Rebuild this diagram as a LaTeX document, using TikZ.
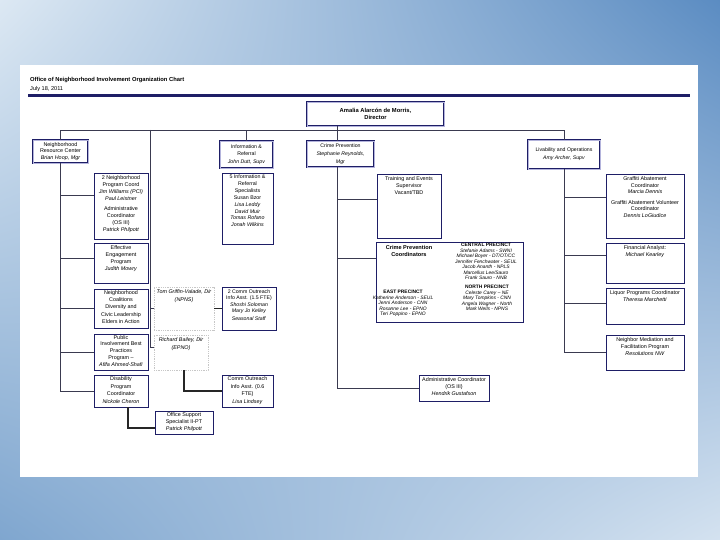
\documentclass[tikz,border=0pt]{standalone}
\usepackage{fontspec}
\setmainfont{Liberation Sans}
\usetikzlibrary{shadings}
\definecolor{navy}{HTML}{1E1E66}
\definecolor{lav}{HTML}{B4B4DC}
\definecolor{conn}{HTML}{3A3A50}
\definecolor{bgA}{HTML}{DCE8F3}
\definecolor{bgB}{HTML}{5B8CC2}
\definecolor{bgC}{HTML}{7FA6CF}
\definecolor{bgD}{HTML}{D4E2F0}
\tikzset{
  sbox/.style={draw=navy, line width=0.9pt, fill=white, inner sep=0pt},
  dbox/.style={draw=navy, double=lav, double distance=0.9pt, line width=0.85pt, fill=white, inner sep=0pt, align=center, font=\fontsize{5.4}{6.8}\selectfont},
  gbox/.style={draw=black!22, line width=0.8pt, dash pattern=on 1pt off 0.8pt, fill=white, inner sep=0pt},
  txt/.style={inner sep=0pt, align=center, font=\fontsize{5.4}{7}\selectfont},
  small/.style={inner sep=0pt, align=center, font=\itshape\fontsize{4.9}{5.5}\selectfont},
  link/.style={draw=conn, line width=0.6pt},
  tlink/.style={draw=black!85, line width=1.3pt},
}
\newcommand\obox[9][]{%
  \node[#2, minimum width=#6, minimum height=#7] (#3) at (#4,#5) {};
  \node[txt, anchor=north, #1] (#3t) at ([yshift=-#8pt]#3.north) {#9};}
\begin{document}
\begin{tikzpicture}[x=1pt,y=-1pt]
\useasboundingbox (0,0) rectangle (720,540);
\shade[upper left=bgA,upper right=bgB,lower left=bgC,lower right=bgD] (0,0) rectangle (720,540);
\fill[white] (20,65) rectangle (698,477);
\node[anchor=base west, inner sep=0, font=\bfseries\fontsize{5.8}{6}\selectfont] (title) at (30,82) {Office of Neighborhood Involvement Organization Chart};
\node[anchor=base west, inner sep=0, font=\fontsize{5.6}{6}\selectfont] (date) at (30,91) {July 18, 2011};
\coordinate (ruleL) at (28,95.5);
\coordinate (ruleR) at (690,95.5);
\draw[navy, line width=2.6pt] (ruleL) -- (ruleR);

% director and department heads
\node[dbox, minimum width=137, minimum height=24, font=\bfseries\fontsize{5.8}{7.5}\selectfont] (dir) at (375.5,114) {Amalia Alarc\'on de Morris,\\Director};
\node[dbox, minimum width=55, minimum height=23] (nrc) at (60.5,151.5) {Neighborhood\\Resource Center\\\textit{Brian Hoop, Mgr}};
\node[dbox, minimum width=53, minimum height=27, font=\fontsize{5.2}{7.8}\selectfont] (info) at (246.5,154.5) {Information \&\\Referral\\\textit{John Dutt, Supv}};
\node[dbox, minimum width=67, minimum height=26, font=\fontsize{5.2}{7.8}\selectfont] (cp) at (340.5,154) {Crime Prevention\\\textit{Stephanie Reynolds,}\\\textit{Mgr}};
\node[dbox, minimum width=72, minimum height=29, font=\fontsize{5.2}{7.8}\selectfont] (liv) at (564,154.5) {Livability and Operations\\\textit{Amy Archer, Supv}};

% left column
\obox{sbox}{npc}{121}{206}{54}{66}{3}{2 Neighborhood\\Program Coord\\\textit{Jim Williams (PCI)}\\\textit{Paul Leistner}\\[2.5pt]Administrative\\Coordinator\\(OS III)\\\textit{Patrick Philpott}}
\obox{sbox}{eep}{121}{263}{54}{40}{3}{Effective\\Engagement\\Program\\\textit{Judith Mowry}}
\obox[font=\fontsize{5.4}{7.4}\selectfont]{sbox}{ncd}{121}{308.5}{54}{39}{1.5}{Neighborhood\\Coalitions\\Diversity and\\Civic Leadership\\Elders in Action}
\obox[font=\fontsize{5.4}{6.8}\selectfont]{sbox}{pib}{121}{352}{54}{36}{1.5}{Public\\Involvement Best\\Practices\\Program --\\\textit{Afifa Ahmed-Shafi}}
\obox[font=\fontsize{5.4}{7.5}\selectfont]{sbox}{dis}{121}{391}{54}{32}{2}{Disability\\Program\\Coordinator\\\textit{Nickole Cheron}}
\obox{sbox}{oss}{184}{422.5}{58}{23}{2}{Office Support\\Specialist II-PT\\\textit{Patrick Philpott}}

% information & referral / outreach
\obox[font=\fontsize{5.3}{6.9}\selectfont]{sbox}{irs}{247.5}{208.5}{51}{71}{2}{5 Information \&\\Referral\\Specialists\\Susan Bzor\\\textit{Lisa Leddy}\\\textit{David Muir}\\\textit{Tomas Rofano}\\\textit{Jonah Wilkins}}
\obox[font=\itshape\fontsize{5.4}{7.5}\selectfont]{gbox}{tom}{184}{308.5}{60}{43}{3}{Tom Griffin-Valade, Dir\\(NPNS)}
\obox[font=\fontsize{5.2}{6.3}\selectfont]{sbox}{co2}{249}{308.5}{54}{43}{3}{2 Comm Outreach\\Info Asst. (1.5 FTE)\\\textit{Shoshi Soloman}\\\textit{Mary Jo Kelley}\\[2pt]\textit{Seasonal Staff}}
\obox[font=\itshape\fontsize{5.4}{7.5}\selectfont]{gbox}{rb}{181}{352.5}{54}{35}{3}{Richard Bailey, Dir\\(EPNO)}
\obox[font=\fontsize{5.4}{7.5}\selectfont]{sbox}{co1}{247.5}{391}{51}{32}{2}{Comm Outreach\\Info Asst. (0.6\\FTE)\\\textit{Lisa Lindsey}}

% crime prevention
\obox[font=\fontsize{5.4}{6.7}\selectfont]{sbox}{tes}{409}{206}{64}{64}{3}{Training and Events\\Supervisor\\Vacant/TBD}
\node[sbox, minimum width=147, minimum height=80] (cpc) at (449.5,282) {};
\node[txt, anchor=north, font=\bfseries\fontsize{5.6}{7.4}\selectfont] (cpcT) at (409,245) {Crime Prevention\\Coordinators};
\node[small, anchor=north] (central) at (486,243) {\textbf{\upshape CENTRAL PRECINCT}\\Stefanie Adams - SWNI\\Michael Boyer - DT/OT/CC\\Jennifer Fenchwater - SEUL\\Jacob Ananth - NPLS\\Marcellus Lee/Sauro\\Frank Sauro - NNB};
\node[small, anchor=north] (east) at (403,290) {\textbf{\upshape EAST PRECINCT}\\Katherine Anderson - SEUL\\Jenni Anderson - CNN\\Rosanne Lee - EPNO\\Teri Poppino - EPNO};
\node[small, anchor=north] (north) at (487,285) {\textbf{\upshape NORTH PRECINCT}\\Celeste Carey -- NE\\Mary Tompkins - CNN\\Angela Wagner - North\\Mark Wells - NPNS};
\obox{sbox}{adm}{454}{388}{70}{26}{3}{Administrative Coordinator\\(OS III)\\\textit{Hendrik Gustafson}}

% livability
\obox[font=\fontsize{5.4}{6.5}\selectfont]{sbox}{gra}{645}{206}{78}{64}{3}{Graffiti Abatement\\Coordinator\\\textit{Marcia Dennis}\\[4pt]Graffiti Abatement Volunteer\\Coordinator\\\textit{Dennis LoGiudice}}
\obox[font=\fontsize{5.4}{6.5}\selectfont]{sbox}{fin}{645}{263}{78}{40}{3}{Financial Analyst:\\\textit{Michael Kearley}}
\obox[font=\fontsize{5.4}{6.8}\selectfont]{sbox}{liq}{645}{306}{78}{36}{3}{Liquor Programs Coordinator\\\textit{Theresa Marchetti}}
\obox[font=\fontsize{5.4}{6.8}\selectfont]{sbox}{nm}{645}{352.5}{78}{35}{3}{Neighbor Mediation and\\Facilitation Program\\\textit{Resolutions NW}}

% connectors
\coordinate (busY) at (0,130);
\coordinate (cpx) at (337,0);
\coordinate (lx) at (150,0);
\coordinate (npcIn) at ([yshift=11pt]npc.west);
\coordinate (eepIn) at ([yshift=5pt]eep.west);
\coordinate (tesIn) at ([yshift=7pt]tes.west);
\coordinate (cpcIn) at ([yshift=24pt]cpc.west);
\coordinate (graIn) at ([yshift=9pt]gra.west);
\coordinate (finIn) at ([yshift=8pt]fin.west);
\coordinate (liqIn) at ([yshift=3pt]liq.west);
\coordinate (rbIn) at ([yshift=5pt]rb.west);
\coordinate (tomIn) at (tom.west);

\draw[link] (nrc.north |- busY) -- (liv.north |- busY);
\draw[link] (nrc.north) -- (nrc.north |- busY);
\draw[link] (info.north) -- (info.north |- busY);
\draw[link] (liv.north) -- (liv.north |- busY);
\draw[link] (dir.south -| cpx) -- (cp.north -| cpx);

\draw[link] (nrc.south) -- (nrc.south |- dis.west) -- (dis.west);
\foreach \t in {npcIn,eepIn,ncd.west,pib.west} \draw[link] (\t -| nrc.south) -- (\t);

\draw[link] (lx |- busY) -- (lx |- rbIn) -- (rbIn);
\draw[link] (tomIn -| lx) -- (tomIn);

\draw[link] (cp.south -| cpx) -- (cpx |- adm.west) -- (adm.west);
\foreach \t in {tesIn,cpcIn} \draw[link] (\t -| cpx) -- (\t);

\draw[link] (liv.south) -- (liv.south |- nm.west) -- (nm.west);
\foreach \t in {graIn,finIn,liqIn} \draw[link] (\t -| liv.south) -- (\t);

\draw[tlink] (tom.east) -- (co2.west);
\draw[tlink] ([xshift=3pt]rb.south) |- (co1.west);
\draw[tlink] ([xshift=7pt]dis.south) |- ([yshift=-5.5pt]oss.west);
\end{tikzpicture}
\end{document}
